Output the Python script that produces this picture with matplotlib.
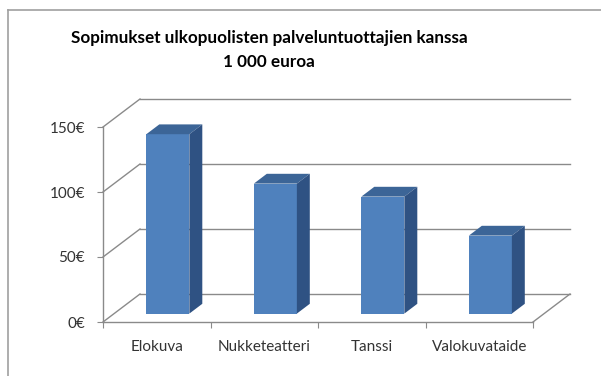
import matplotlib
matplotlib.use("Agg")
import matplotlib.pyplot as plt
from matplotlib.patches import Polygon
from matplotlib.lines import Line2D

# Contracts with external service providers, thousand euros
categories = ["Elokuva", "Nukketeatteri", "Tanssi", "Valokuvataide"]
values = [138, 100, 90, 60]
y_ticks = [0, 50, 100, 150]
y_labels = ["0€", "50€", "100€", "150€"]
title = "Sopimukset ulkopuolisten palveluntuottajien kanssa\n1 000 euroa"

FRONT = "#4F81BD"
TOP = "#3C6597"
SIDE = "#2F5283"
GRID = "#8A8A8A"

W, H = 601, 376
fig = plt.figure(figsize=(W / 100, H / 100), dpi=100)
fig.patch.set_facecolor("white")

# chart frame (only left and top edges fall inside the image)
fig.add_artist(Line2D([8 / W, 8 / W], [0, 1 - 10 / H], color="#A0A0A0", lw=1.2))
fig.add_artist(Line2D([8 / W, 1], [1 - 10 / H, 1 - 10 / H], color="#A0A0A0", lw=1.2))

fig.text(269 / W, 1 - 50 / H, title, ha="center", va="center",
         fontsize=12.3, fontweight="bold", family="Lato", linespacing=1.6)

# front plane of the 3D plot
ax = fig.add_axes([103 / W, 54 / H, 430 / W, 195 / H])
ax.set_xlim(0, len(categories))
ax.set_ylim(0, 150)
ax.patch.set_visible(False)

# oblique depth offset in data units
DX = 37 / 107.5
DY = 28 / 1.3
n = len(categories)

# back wall gridlines and left wall diagonals
for v in y_ticks:
    ax.plot([DX, n + DX], [v + DY, v + DY], color=GRID, lw=1, clip_on=False, zorder=1)
    ax.plot([0, DX], [v, v + DY], color=GRID, lw=1, clip_on=False, zorder=1)
# right edge of floor
ax.plot([n, n + DX], [0, DY], color=GRID, lw=1, clip_on=False, zorder=1)

# 3D columns
half = 0.2
d0, d1 = 0.30, 0.65
for i, v in enumerate(values):
    c = i + 0.5
    x0 = c - half + d0 * DX
    x1 = c + half + d0 * DX
    y0 = d0 * DY
    ox, oy = (d1 - d0) * DX, (d1 - d0) * DY
    front = Polygon([(x0, y0), (x1, y0), (x1, y0 + v), (x0, y0 + v)],
                    closed=True, fc=FRONT, ec="none", clip_on=False, zorder=3)
    top = Polygon([(x0, y0 + v), (x1, y0 + v), (x1 + ox, y0 + v + oy), (x0 + ox, y0 + v + oy)],
                  closed=True, fc=TOP, ec="none", clip_on=False, zorder=3)
    side = Polygon([(x1, y0), (x1 + ox, y0 + oy), (x1 + ox, y0 + v + oy), (x1, y0 + v)],
                   closed=True, fc=SIDE, ec="none", clip_on=False, zorder=3)
    for p in (front, top, side):
        ax.add_patch(p)

for s in ("top", "right"):
    ax.spines[s].set_visible(False)
for s in ("left", "bottom"):
    ax.spines[s].set_color(GRID)
    ax.spines[s].set_linewidth(1)

ax.set_yticks(y_ticks)
ax.set_yticklabels(y_labels)
ax.tick_params(axis="y", length=4, color=GRID, pad=9, labelsize=11, labelcolor="#333333")

ax.set_xticks(range(n + 1))
ax.set_xticklabels([])
ax.set_xticks([i + 0.5 for i in range(n)], minor=True)
ax.set_xticklabels(categories, minor=True)
ax.tick_params(axis="x", which="major", length=4, color=GRID)
ax.tick_params(axis="x", which="minor", length=0, pad=13, labelsize=11, labelcolor="#333333")
for lab in ax.get_xticklabels(minor=True) + ax.get_yticklabels():
    lab.set_family("Lato")

fig.savefig("out.png", dpi=100)
